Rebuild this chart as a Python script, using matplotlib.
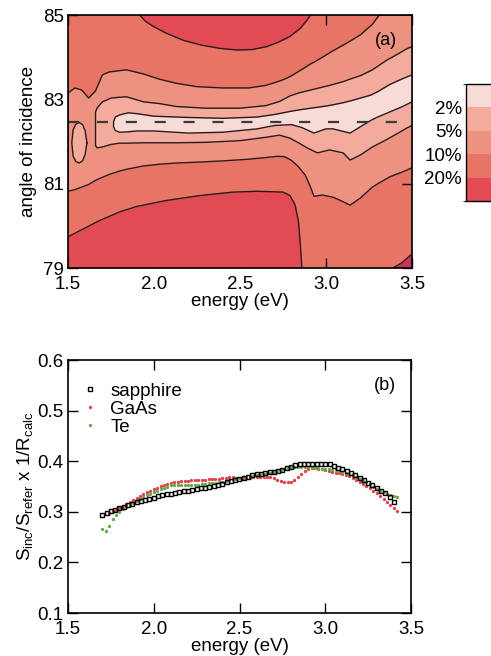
import numpy as np
import matplotlib
matplotlib.use("Agg")
import matplotlib.pyplot as plt
from matplotlib.colors import ListedColormap, BoundaryNorm
from matplotlib.cm import ScalarMappable

plt.rcParams['font.family'] = ['Liberation Sans', 'DejaVu Sans']
plt.rcParams['mathtext.default'] = 'regular'

# ---------------- panel (a): contour boundaries ----------------
# region with error < 10 %
e10 = [1.50, 1.54, 1.58, 1.62, 1.66, 1.70, 1.74, 1.80, 1.84, 1.90, 1.94, 2.03, 2.13,
       2.25, 2.40, 2.55, 2.65, 2.72, 2.76, 2.80, 2.84, 2.88, 2.91, 2.93, 2.98, 3.04,
       3.08, 3.14, 3.20, 3.27, 3.31, 3.37, 3.47, 3.50]
up10 = [83.15, 83.27, 83.22, 83.03, 83.20, 83.58, 83.65, 83.68, 83.70, 83.64, 83.60,
        83.48, 83.38, 83.30, 83.27, 83.27, 83.33, 83.42, 83.48, 83.56, 83.66, 83.76,
        83.84, 83.88, 84.00, 84.15, 84.24, 84.38, 84.53, 84.78, 85.00, 85.00, 85.00, 85.00]
lo10 = [80.82, 80.86, 80.92, 80.98, 81.08, 81.15, 81.22, 81.30, 81.34, 81.39, 81.42,
        81.46, 81.49, 81.51, 81.54, 81.58, 81.62, 81.65, 81.64, 81.55, 81.40, 81.20,
        80.92, 80.70, 80.73, 80.68, 80.61, 80.49, 80.66, 80.92, 81.02, 81.16, 81.32, 81.38]

# region with error < 5 %
e5 = [1.66, 1.67, 1.70, 1.75, 1.80, 1.84, 1.94, 2.03, 2.13, 2.30, 2.50, 2.65, 2.73,
      2.79, 2.84, 2.89, 2.95, 3.02, 3.10, 3.14, 3.20, 3.27, 3.35, 3.42, 3.47, 3.50]
up5 = [82.70, 82.80, 82.94, 83.03, 83.05, 83.06, 82.94, 82.90, 82.83, 82.79, 82.79,
       82.85, 82.95, 83.08, 83.15, 83.20, 83.26, 83.33, 83.42, 83.48, 83.56, 83.70,
       83.92, 84.08, 84.20, 84.25]
lo5 = [81.90, 81.85, 81.87, 81.93, 81.96, 81.96, 81.97, 81.97, 81.97, 81.98, 82.02,
       82.10, 82.15, 82.08, 81.97, 81.85, 81.73, 81.80, 81.73, 81.56, 81.68, 81.87,
       82.04, 82.20, 82.32, 82.38]

# small closed 5 % island near 1.56 eV
e_isl = [1.522, 1.53, 1.545, 1.565, 1.585, 1.60, 1.61]
up_isl = [81.97, 82.28, 82.41, 82.45, 82.40, 82.25, 81.97]
lo_isl = [81.97, 81.65, 81.53, 81.49, 81.54, 81.70, 81.97]

# region with error < 2 %
e2 = [1.765, 1.775, 1.80, 1.85, 1.90, 2.00, 2.20, 2.40, 2.60, 2.70, 2.80, 2.86, 2.93,
      3.00, 3.04, 3.10, 3.14, 3.20, 3.26, 3.30, 3.37, 3.44, 3.50]
up2 = [82.47, 82.58, 82.63, 82.68, 82.66, 82.60, 82.57, 82.55, 82.58, 82.64, 82.72,
       82.76, 82.80, 82.84, 82.87, 82.92, 82.96, 83.03, 83.10, 83.18, 83.35, 83.48, 83.58]
lo2 = [82.35, 82.26, 82.22, 82.23, 82.25, 82.25, 82.20, 82.22, 82.30, 82.38, 82.40,
       82.33, 82.20, 82.30, 82.30, 82.24, 82.20, 82.35, 82.50, 82.58, 82.70, 82.82, 82.94]

# error > 20 % : lower region and upper oval
e20lo = [1.50, 1.60, 1.68, 1.80, 1.90, 2.07, 2.27, 2.46, 2.60, 2.75, 2.79, 2.82, 2.84,
         2.85, 2.86]
lo20 = [79.74, 79.95, 80.12, 80.33, 80.46, 80.60, 80.72, 80.80, 80.82, 80.80, 80.72,
        80.50, 80.10, 79.60, 79.00]
e20up = [1.917, 1.95, 2.00, 2.07, 2.17, 2.27, 2.38, 2.48, 2.57, 2.655, 2.72, 2.79,
         2.85, 2.89, 2.91]
up20 = [85.0, 84.85, 84.72, 84.57, 84.40, 84.29, 84.21, 84.17, 84.18, 84.25, 84.35,
        84.49, 84.68, 84.88, 85.0]
# dark corner bottom right
e_cor = [3.39, 3.44, 3.49, 3.50]
cor = [79.0, 79.12, 79.30, 79.32]

angle_best = 82.47
cbar_levels = [0, 2, 5, 10, 20, 40]
cbar_labels = ['2%', '5%', '10%', '20%']

# ---------------- panel (b): normalised signal ----------------
e_sap = np.arange(1.700, 3.4001, 0.025)
sapphire = [0.294, 0.297, 0.301, 0.304, 0.307, 0.310, 0.313, 0.316, 0.319, 0.321,
            0.324, 0.326, 0.328, 0.331, 0.333, 0.335, 0.336, 0.338, 0.339, 0.341,
            0.342, 0.344, 0.345, 0.347, 0.348, 0.349, 0.351, 0.353, 0.355, 0.358,
            0.361, 0.363, 0.365, 0.367, 0.369, 0.372, 0.374, 0.375, 0.377, 0.378,
            0.379, 0.381, 0.383, 0.386, 0.389, 0.392, 0.394, 0.395, 0.395, 0.395,
            0.395, 0.395, 0.395, 0.394, 0.391, 0.387, 0.384, 0.380, 0.376, 0.372,
            0.367, 0.362, 0.357, 0.352, 0.347, 0.342, 0.337, 0.330, 0.320]

e_gaas = np.arange(1.74, 3.4201, 0.02)
gaas = [0.298, 0.301, 0.304, 0.307, 0.311, 0.315, 0.319, 0.323, 0.327, 0.331,
        0.335, 0.339, 0.342, 0.345, 0.348, 0.351, 0.353, 0.355, 0.357, 0.358,
        0.359, 0.360, 0.360, 0.361, 0.362, 0.362, 0.363, 0.363, 0.363, 0.364,
        0.364, 0.365, 0.365, 0.366, 0.367, 0.368, 0.368, 0.367, 0.366, 0.366,
        0.366, 0.367, 0.368, 0.369, 0.369, 0.369, 0.369, 0.368, 0.366, 0.363,
        0.361, 0.359, 0.358, 0.359, 0.362, 0.368, 0.375, 0.380, 0.384, 0.386,
        0.386, 0.385, 0.384, 0.382, 0.380, 0.378, 0.377, 0.376, 0.375, 0.373,
        0.370, 0.367, 0.363, 0.359, 0.355, 0.351, 0.347, 0.342, 0.337, 0.331,
        0.325, 0.319, 0.313, 0.307, 0.302]

e_te = np.arange(1.70, 3.4201, 0.02)
te = [0.266, 0.262, 0.272, 0.285, 0.293, 0.300, 0.305, 0.310, 0.314, 0.318,
      0.322, 0.326, 0.330, 0.333, 0.336, 0.339, 0.342, 0.345, 0.348, 0.350,
      0.352, 0.353, 0.353, 0.353, 0.353, 0.352, 0.352, 0.353, 0.353, 0.354,
      0.355, 0.356, 0.356, 0.357, 0.358, 0.359, 0.361, 0.362, 0.364, 0.365,
      0.366, 0.368, 0.369, 0.370, 0.371, 0.373, 0.374, 0.375, 0.376, 0.377,
      0.379, 0.380, 0.382, 0.384, 0.386, 0.388, 0.389, 0.389, 0.389, 0.388,
      0.388, 0.388, 0.387, 0.386, 0.385, 0.385, 0.384, 0.383, 0.382, 0.381,
      0.379, 0.377, 0.375, 0.372, 0.368, 0.365, 0.362, 0.358, 0.354, 0.350,
      0.346, 0.342, 0.339, 0.336, 0.334, 0.332, 0.330]

# colours
c_lt, c_2, c_5, c_10, c_20, c_cor = '#f7dbd6', '#f2ab9c', '#ed9281', '#e87466', '#e24a54', '#c8325e'
line_kw = dict(color='#2a1a1a', lw=1.0, zorder=4)

fig = plt.figure(figsize=(4.91, 6.56), dpi=100)
W, H = 491, 656
ax1 = fig.add_axes([68 / W, 1 - 268 / H, 344 / W, 253 / H])
ax2 = fig.add_axes([68 / W, 1 - 613 / H, 343 / W, 253 / H])
cax = fig.add_axes([466 / W, 1 - 201 / H, 30 / W, 117 / H])


def region(ax, e, lo, up, color):
    ax.fill_between(e, lo, up, color=color, lw=0, zorder=2)
    e = np.asarray(e)
    ax.plot(np.r_[e[::-1], e], np.r_[np.asarray(lo)[::-1], up], **line_kw)


ax1.set_facecolor(c_10)
region(ax1, e10, lo10, up10, c_5)
region(ax1, e5, lo5, up5, c_2)
region(ax1, e_isl, lo_isl, up_isl, c_2)
region(ax1, e2, lo2, up2, c_lt)
ax1.fill_between(e20lo, 79, lo20, color=c_20, lw=0, zorder=2)
ax1.plot(e20lo, lo20, **line_kw)
ax1.fill_between(e20up, up20, 85, color=c_20, lw=0, zorder=2)
ax1.plot(e20up, up20, **line_kw)
ax1.fill_between(e_cor, 79, cor, color=c_cor, lw=0, zorder=2)
ax1.plot(e_cor, cor, **line_kw)
ax1.axhline(angle_best, color='#3a3a3a', lw=1.6, ls=(0, (5, 8)), zorder=5)

ax1.set_xlim(1.5, 3.5)
ax1.set_ylim(79, 85)
ax1.set_xticks([1.5, 2.0, 2.5, 3.0, 3.5])
ax1.set_yticks([79, 81, 83, 85])
ax1.set_xlabel('energy (eV)', fontsize=13.5, labelpad=0)
ax1.set_ylabel('angle of incidence', fontsize=13.5, labelpad=4)
ax1.text(0.955, 0.9, '(a)', transform=ax1.transAxes, ha='right', va='center', fontsize=13, zorder=6)

cmap = ListedColormap([c_lt, c_2, c_5, c_10, c_20])
norm = BoundaryNorm(cbar_levels, cmap.N)
cb = fig.colorbar(ScalarMappable(norm=norm, cmap=cmap), cax=cax, drawedges=True,
                  ticks=cbar_levels[1:5])
cax.invert_yaxis()
cb.outline.set_linewidth(1.0)
cb.dividers.set_linewidth(1.0)
cax.yaxis.set_ticks_position('left')
cax.set_yticklabels(cbar_labels)
cax.tick_params(length=0, labelsize=13.5, pad=3)

# panel (b)
ax2.plot(e_sap, sapphire, ls='none', marker='s', ms=3.3, mfc='none', mec='black', mew=1.0,
         label='sapphire', zorder=3)
ax2.plot(e_gaas, gaas, ls='none', marker='o', ms=2.4, color='#e2404c', mew=0,
         label='GaAs', zorder=2)
ax2.plot(e_te, te, ls='none', marker='o', ms=2.4, color='#69a84c', mew=0,
         label='Te', zorder=2)
ax2.set_xlim(1.5, 3.5)
ax2.set_ylim(0.1, 0.6)
ax2.set_xticks([1.5, 2.0, 2.5, 3.0, 3.5])
ax2.set_yticks([0.1, 0.2, 0.3, 0.4, 0.5, 0.6])
ax2.set_xlabel('energy (eV)', fontsize=13.5, labelpad=0)
ax2.set_ylabel(r'S$_{inc}$/S$_{refer}$ x 1/R$_{calc}$', fontsize=13.5, labelpad=2)
ax2.text(0.955, 0.9, '(b)', transform=ax2.transAxes, ha='right', va='center', fontsize=13)
ax2.legend(loc='upper left', bbox_to_anchor=(0.02, 0.94), frameon=False, fontsize=13.5,
           handlelength=0.8, handletextpad=0.7, labelspacing=0.05, borderaxespad=0,
           markerscale=1.0)

for ax in (ax1, ax2):
    ax.tick_params(direction='in', top=True, right=True, length=7, width=1.0,
                   labelsize=13.5)
    ax.tick_params(axis='y', pad=3)
    ax.tick_params(axis='x', pad=6)
    for s in ax.spines.values():
        s.set_linewidth(1.2)
        s.set_zorder(6)

fig.savefig('out.png', dpi=100)
